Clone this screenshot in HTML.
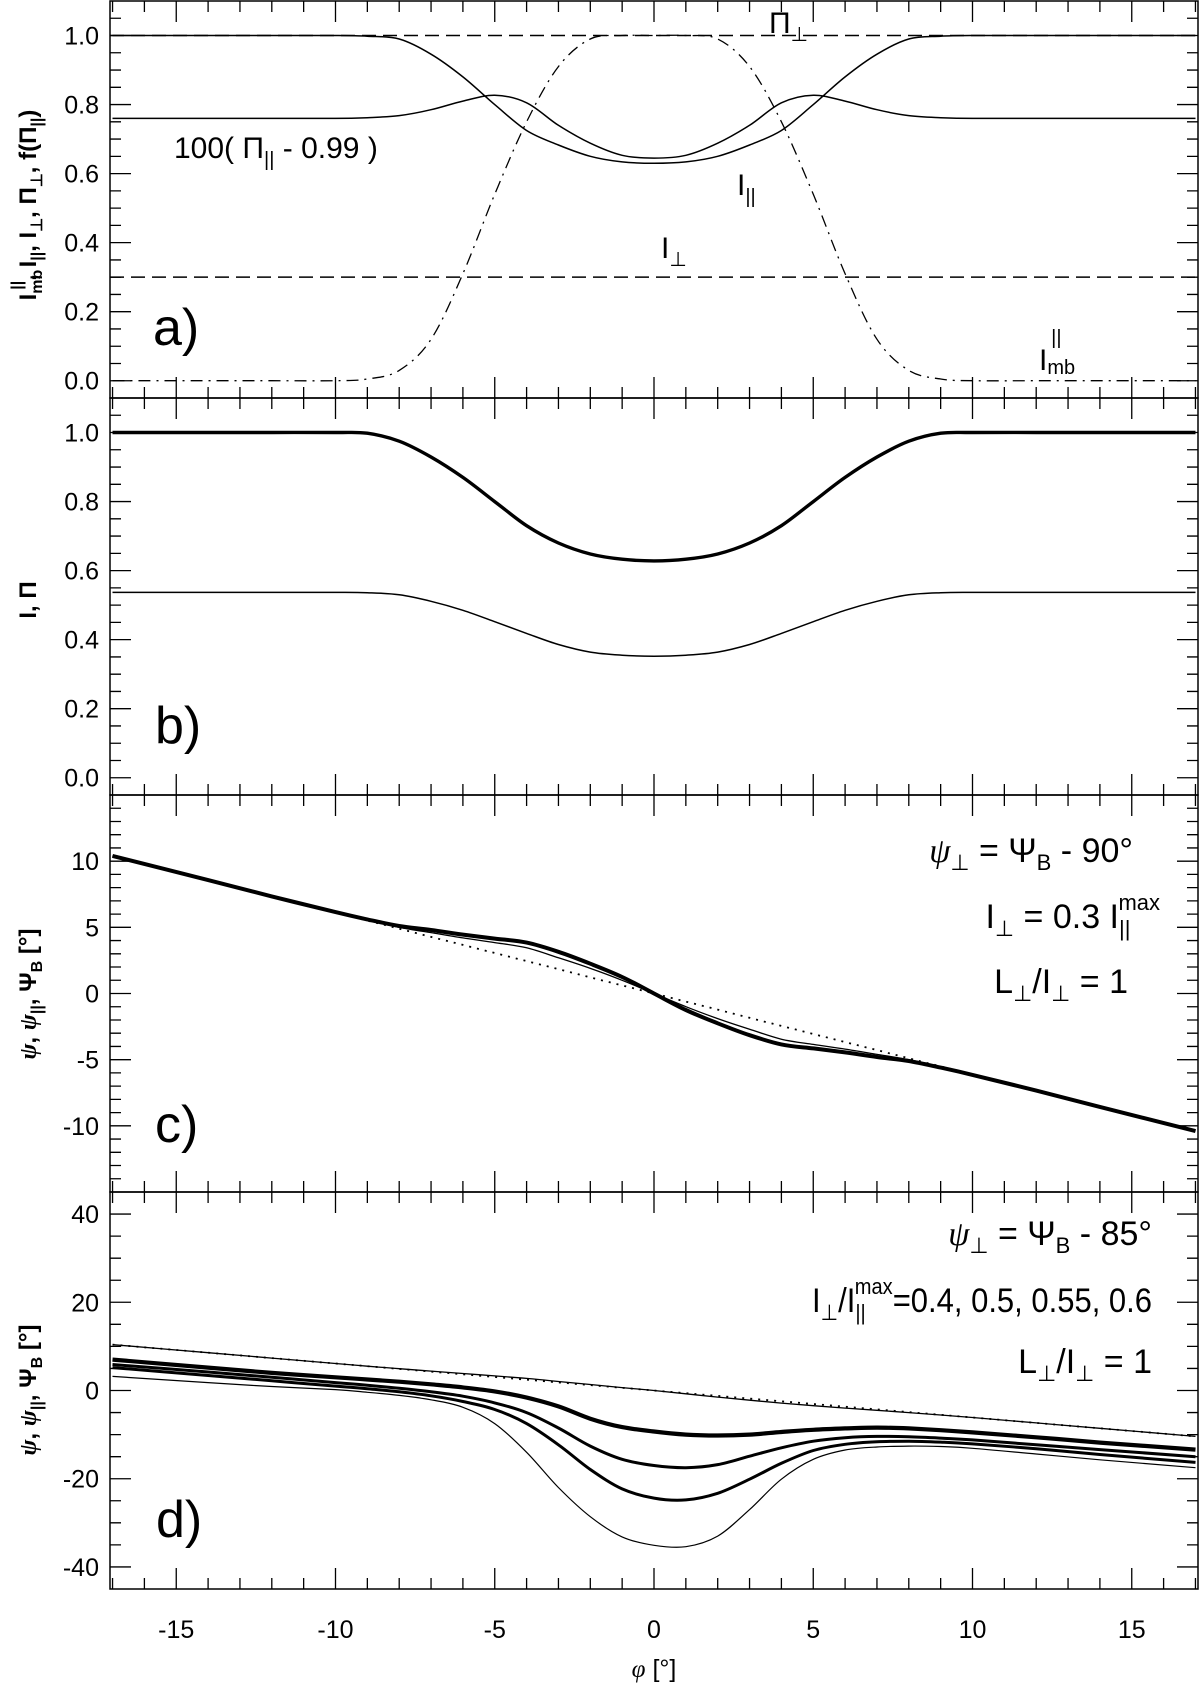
<!DOCTYPE html>
<html><head><meta charset="utf-8"><style>
html,body{margin:0;padding:0;background:#fff;}
svg{display:block;font-family:"Liberation Sans",sans-serif;}
.t{font-size:25px;fill:#000;}
.lbl{font-size:30px;fill:#000;}
.ann{font-size:34px;fill:#000;}
.pl{font-size:52px;fill:#000;}
.yt{font-size:24px;fill:#000;font-weight:bold;}
.gr{font-family:"Liberation Serif",serif;font-style:italic;}
</style></head><body>
<svg id="fig" width="1200" height="1685" viewBox="0 0 1200 1685" xmlns="http://www.w3.org/2000/svg">
<rect width="1200" height="1685" fill="#fff"/>
<g id="axes"></g>
<g id="marks" fill="none" stroke="#000"></g>
<text class="lbl" x="769" y="33">Π<tspan font-size="20" dy="8">⊥</tspan></text>
<text class="lbl" x="174" y="158">100( Π<tspan font-size="20" dy="8">||</tspan><tspan dy="-8"> - 0.99 )</tspan></text>
<text class="lbl" x="737" y="195">I<tspan font-size="20" dy="8">||</tspan></text>
<text class="lbl" x="661" y="258">I<tspan font-size="20" dy="8">⊥</tspan></text>
<text class="lbl" x="1039" y="370">I<tspan font-size="20" dy="4">mb</tspan><tspan font-size="20" dx="-24" dy="-30">||</tspan></text>
<text class="pl" x="153" y="345">a)</text>
<text class="pl" x="155" y="743">b)</text>
<text class="pl" x="155" y="1142">c)</text>
<text class="pl" x="156" y="1537">d)</text>
<text class="ann" x="1133" y="862" text-anchor="end"><tspan class="gr">ψ</tspan><tspan font-size="22" dy="8">⊥</tspan><tspan dy="-8"> = Ψ</tspan><tspan font-size="22" dy="8">B</tspan><tspan dy="-8"> - 90°</tspan></text>
<text class="ann" x="1160" y="928" text-anchor="end">I<tspan font-size="22" dy="8">⊥</tspan><tspan dy="-8"> = 0.3 I</tspan><tspan font-size="22" dy="8">||</tspan><tspan font-size="22" dx="-12" dy="-26">max</tspan></text>
<text class="ann" x="1128" y="993" text-anchor="end">L<tspan font-size="22" dy="8">⊥</tspan><tspan dy="-8">/I</tspan><tspan font-size="22" dy="8">⊥</tspan><tspan dy="-8"> = 1</tspan></text>
<text class="ann" x="1152" y="1245" text-anchor="end"><tspan class="gr">ψ</tspan><tspan font-size="22" dy="8">⊥</tspan><tspan dy="-8"> = Ψ</tspan><tspan font-size="22" dy="8">B</tspan><tspan dy="-8"> - 85°</tspan></text>
<text class="ann" x="812" y="1312" textLength="340" lengthAdjust="spacingAndGlyphs">I<tspan font-size="22" dy="8">⊥</tspan><tspan dy="-8">/I</tspan><tspan font-size="22" dy="8">||</tspan><tspan font-size="22" dx="-12" dy="-26">max</tspan><tspan dy="18">=0.4, 0.5, 0.55, 0.6</tspan></text>
<text class="ann" x="1152" y="1373" text-anchor="end">L<tspan font-size="22" dy="8">⊥</tspan><tspan dy="-8">/I</tspan><tspan font-size="22" dy="8">⊥</tspan><tspan dy="-8"> = 1</tspan></text>
<text class="yt" transform="translate(36,205) rotate(-90)" text-anchor="middle">I<tspan font-size="16" dy="6">mb</tspan><tspan font-size="16" dx="-20" dy="-20">||</tspan><tspan dy="14">, I</tspan><tspan font-size="16" dy="6">||</tspan><tspan dy="-6">, I</tspan><tspan font-size="16" dy="6">⊥</tspan><tspan dy="-6">, Π</tspan><tspan font-size="16" dy="6">⊥</tspan><tspan dy="-6">, f(Π</tspan><tspan font-size="16" dy="6">||</tspan><tspan dy="-6">)</tspan></text>
<text class="yt" transform="translate(36,600) rotate(-90)" text-anchor="middle">I, Π</text>
<text class="yt" transform="translate(36,994) rotate(-90)" text-anchor="middle"><tspan class="gr">ψ</tspan>, <tspan class="gr">ψ</tspan><tspan font-size="16" dy="6">||</tspan><tspan dy="-6">,  Ψ</tspan><tspan font-size="16" dy="6">B</tspan><tspan dy="-6"> [°]</tspan></text>
<text class="yt" transform="translate(36,1390) rotate(-90)" text-anchor="middle"><tspan class="gr">ψ</tspan>, <tspan class="gr">ψ</tspan><tspan font-size="16" dy="6">||</tspan><tspan dy="-6">,  Ψ</tspan><tspan font-size="16" dy="6">B</tspan><tspan dy="-6"> [°]</tspan></text>
<text class="t" x="654" y="1677" text-anchor="middle"><tspan class="gr">φ</tspan> [°]</text>
</svg>
<script>
const phi = [-17,-14,-12,-10,-9,-8,-7,-6,-5,-4,-3,-2,-1,0,1,2,3,4,5,6,7,8,9,10,12,14,17];
const aImb  = [0,0,0,0,0.005,0.03,0.12,0.31,0.54,0.75,0.91,0.99,1,1,1,0.99,0.91,0.75,0.54,0.31,0.12,0.03,0.005,0,0,0,0];
const aIpar = [1,1,1,1,0.998,0.99,0.946,0.88,0.80,0.725,0.683,0.65,0.634,0.63,0.634,0.65,0.683,0.725,0.80,0.88,0.946,0.99,0.998,1,1,1,1];
const aPi100= [0.76,0.76,0.76,0.76,0.762,0.768,0.785,0.81,0.827,0.805,0.74,0.688,0.653,0.645,0.653,0.688,0.74,0.805,0.827,0.81,0.785,0.768,0.762,0.76,0.76,0.76,0.76];
const aIperp = 0.3;
const aPiPerp = 1.0;
const bI  = [1,1,1,1,0.998,0.975,0.929,0.87,0.80,0.73,0.68,0.648,0.633,0.628,0.633,0.648,0.68,0.73,0.80,0.87,0.929,0.975,0.998,1,1,1,1];
const bPi = [0.537,0.537,0.537,0.537,0.536,0.53,0.511,0.485,0.452,0.418,0.386,0.364,0.355,0.352,0.355,0.364,0.386,0.418,0.452,0.485,0.511,0.53,0.536,0.537,0.537,0.537,0.537];
const cPsiB = [10.4,8.57,7.34,6.12,5.51,4.9,4.28,3.67,3.06,2.45,1.84,1.22,0.61,0,-0.61,-1.22,-1.84,-2.45,-3.06,-3.67,-4.28,-4.9,-5.51,-6.12,-7.34,-8.57,-10.4];
const cPsi  = [10.4,8.57,7.34,6.15,5.6,5.1,4.8,4.45,4.15,3.85,3.15,2.25,1.25,0,-1.25,-2.25,-3.15,-3.85,-4.15,-4.45,-4.8,-5.1,-5.6,-6.15,-7.34,-8.57,-10.4];
const cPsiPar=[10.4,8.57,7.34,6.12,5.55,5.0,4.6,4.2,3.85,3.45,2.7,1.9,1.0,0,-1.0,-1.9,-2.7,-3.45,-3.85,-4.2,-4.6,-5.0,-5.55,-6.12,-7.34,-8.57,-10.4];
const dPsiB = [10.4,8.57,7.34,6.12,5.51,4.9,4.28,3.67,3.06,2.45,1.84,1.22,0.61,0,-0.61,-1.22,-1.84,-2.45,-3.06,-3.67,-4.28,-4.9,-5.51,-6.12,-7.34,-8.57,-10.4];
const dPsiPar=[10.4,8.57,7.34,6.12,5.51,4.95,4.4,3.85,3.3,2.75,2.05,1.35,0.65,0,-0.75,-1.5,-2.2,-2.85,-3.45,-4.0,-4.5,-5.0,-5.55,-6.12,-7.34,-8.57,-10.4];
const d04  = [7.0,5.2,4.0,3.0,2.5,2.0,1.4,0.7,-0.2,-1.6,-3.6,-6.4,-8.3,-9.3,-10.0,-10.2,-10.0,-9.4,-8.9,-8.6,-8.4,-8.6,-9.0,-9.5,-10.6,-11.8,-13.4];
const d05  = [5.9,4.2,3.0,1.8,1.2,0.5,-0.3,-1.3,-2.8,-5.0,-8.5,-12.6,-15.6,-17.0,-17.5,-16.8,-14.9,-13.0,-11.5,-10.7,-10.4,-10.5,-10.8,-11.2,-12.3,-13.4,-15.0];
const d055 = [5.2,3.4,2.2,1.0,0.4,-0.3,-1.2,-2.5,-4.3,-7.5,-12.3,-17.9,-22.3,-24.4,-24.8,-23.3,-20.1,-16.5,-13.6,-12.2,-11.6,-11.5,-11.7,-12.1,-13.2,-14.5,-16.3];
const d06  = [3.2,1.8,0.9,0.2,-0.4,-1.1,-2.1,-3.8,-7.5,-14.0,-22.0,-28.6,-33.2,-35.1,-35.4,-33.0,-27.0,-20.1,-15.6,-13.5,-12.8,-12.6,-12.7,-13.1,-14.4,-15.7,-17.5];
const xTickLabels = [-15,-10,-5,0,5,10,15];
const abTickLabels = ["0.0","0.2","0.4","0.6","0.8","1.0"];
const cTickLabels = [-10,-5,0,5,10];
const dTickLabels = [-40,-20,0,20,40];

const L=110, R=1198, X0=-17.08, X1=17.08;
const sx = v => L + (v-X0)/(X1-X0)*(R-L);
const panels = {
  a:{top:1, bot:398, y0:-0.05, y1:1.1, minor:0.05, major:0.2},
  b:{top:398, bot:795, y0:-0.05, y1:1.1, minor:0.05, major:0.2},
  c:{top:795, bot:1192, y0:-15, y1:15, minor:1, major:5},
  d:{top:1192, bot:1589, y0:-45, y1:45, minor:5, major:20}
};
function sy(p,v){ return p.bot - (v-p.y0)/(p.y1-p.y0)*(p.bot-p.top); }
const NS="http://www.w3.org/2000/svg";
const axes=document.getElementById('axes'), marks=document.getElementById('marks');
function mk(tag, parent){ const e=document.createElementNS(NS,tag); parent.appendChild(e); return e; }

Object.keys(panels).forEach(k=>{
  const p=panels[k];
  const fr=mk('rect',axes);
  
  
  fr.setAttribute('x',L); fr.setAttribute('y',p.top); fr.setAttribute('width',R-L); fr.setAttribute('height',p.bot-p.top);
  fr.setAttribute('fill','none'); fr.setAttribute('stroke','#000'); fr.setAttribute('stroke-width','1.5');
  let d='';
  for(let x=-17;x<=17;x++){
    const len = (x%5===0)?21:11; const X=sx(x);
    d+=`M${X},${p.bot}v${-len}M${X},${p.top}v${len}`;
  }
  const n=Math.round((p.y1-p.y0)/p.minor);
  for(let i=0;i<=n;i++){
    const v=p.y0+i*p.minor; const Y=sy(p,v);
    if(Y<p.top+0.5||Y>p.bot-0.5) continue;
    const r=Math.abs(v/p.major-Math.round(v/p.major))<1e-6;
    const len=r?21:11;
    d+=`M${L},${Y}h${len}M${R},${Y}h${-len}`;
  }
  const tk=mk('path',axes);
  
  
  tk.setAttribute('d',d); tk.setAttribute('stroke','#000'); tk.setAttribute('stroke-width','1.3'); tk.setAttribute('fill','none');
});
function ylab(p,labels,vals,name){
  labels.forEach((s,i)=>{
    const t=mk('text',axes);
    
    
    t.setAttribute('class','t'); t.setAttribute('x',99); t.setAttribute('y',sy(p,vals[i])+9); t.setAttribute('text-anchor','end');
    t.textContent=s;
  });
}
ylab(panels.a,abTickLabels,abTickLabels.map(Number),'y-tick-label-a');
ylab(panels.b,abTickLabels,abTickLabels.map(Number),'y-tick-label-b');
ylab(panels.c,cTickLabels.map(String),cTickLabels,'y-tick-label-c');
ylab(panels.d,dTickLabels.map(String),dTickLabels,'y-tick-label-d');
xTickLabels.forEach(v=>{
  const t=mk('text',axes);
  
  
  t.setAttribute('class','t'); t.setAttribute('x',sx(v)); t.setAttribute('y',1638); t.setAttribute('text-anchor','middle');
  t.textContent=String(v);
});

function curvePath(p, xs, ys){
  const pts=xs.map((x,i)=>[sx(x),sy(p,ys[i])]);
  let d=`M${pts[0][0].toFixed(1)},${pts[0][1].toFixed(1)}`;
  for(let i=0;i<pts.length-1;i++){
    const p0=pts[Math.max(0,i-1)], p1=pts[i], p2=pts[i+1], p3=pts[Math.min(pts.length-1,i+2)];
    const c1=[p1[0]+(p2[0]-p0[0])/6, p1[1]+(p2[1]-p0[1])/6];
    const c2=[p2[0]-(p3[0]-p1[0])/6, p2[1]-(p3[1]-p1[1])/6];
    d+=`C${c1[0].toFixed(1)},${c1[1].toFixed(1)} ${c2[0].toFixed(1)},${c2[1].toFixed(1)} ${p2[0].toFixed(1)},${p2[1].toFixed(1)}`;
  }
  return d;
}
function addPath(d,w,dash){
  const e=mk('path',marks);
  e.setAttribute('d',d); e.setAttribute('stroke-width',w);
  if(dash) e.setAttribute('stroke-dasharray',dash);
  return e;
}
let e;
e=addPath(`M${L},${sy(panels.a,aPiPerp)}H${R}`,1.5,'14 7');


e=addPath(`M${L},${sy(panels.a,aIperp)}H${R}`,1.5,'14 7');


e=addPath(curvePath(panels.a,phi,aImb),1.3,'12 6 2 6');


e=addPath(curvePath(panels.a,phi,aIpar),1.5);


e=addPath(curvePath(panels.a,phi,aPi100),1.5);


e=addPath(curvePath(panels.b,phi,bI),3.4);


e=addPath(curvePath(panels.b,phi,bPi),1.5);


e=addPath(curvePath(panels.c,phi,cPsiB),1.8,'2 6');


e=addPath(curvePath(panels.c,phi,cPsiPar),1.3);


e=addPath(curvePath(panels.c,phi,cPsi),4);


e=addPath(curvePath(panels.d,phi,dPsiB),1.8,'2 6');


e=addPath(curvePath(panels.d,phi,dPsiPar),1.3);


e=addPath(curvePath(panels.d,phi,d04),4.2);


e=addPath(curvePath(panels.d,phi,d05),3);


e=addPath(curvePath(panels.d,phi,d055),3);


e=addPath(curvePath(panels.d,phi,d06),1.2);


</script>
</body></html>
